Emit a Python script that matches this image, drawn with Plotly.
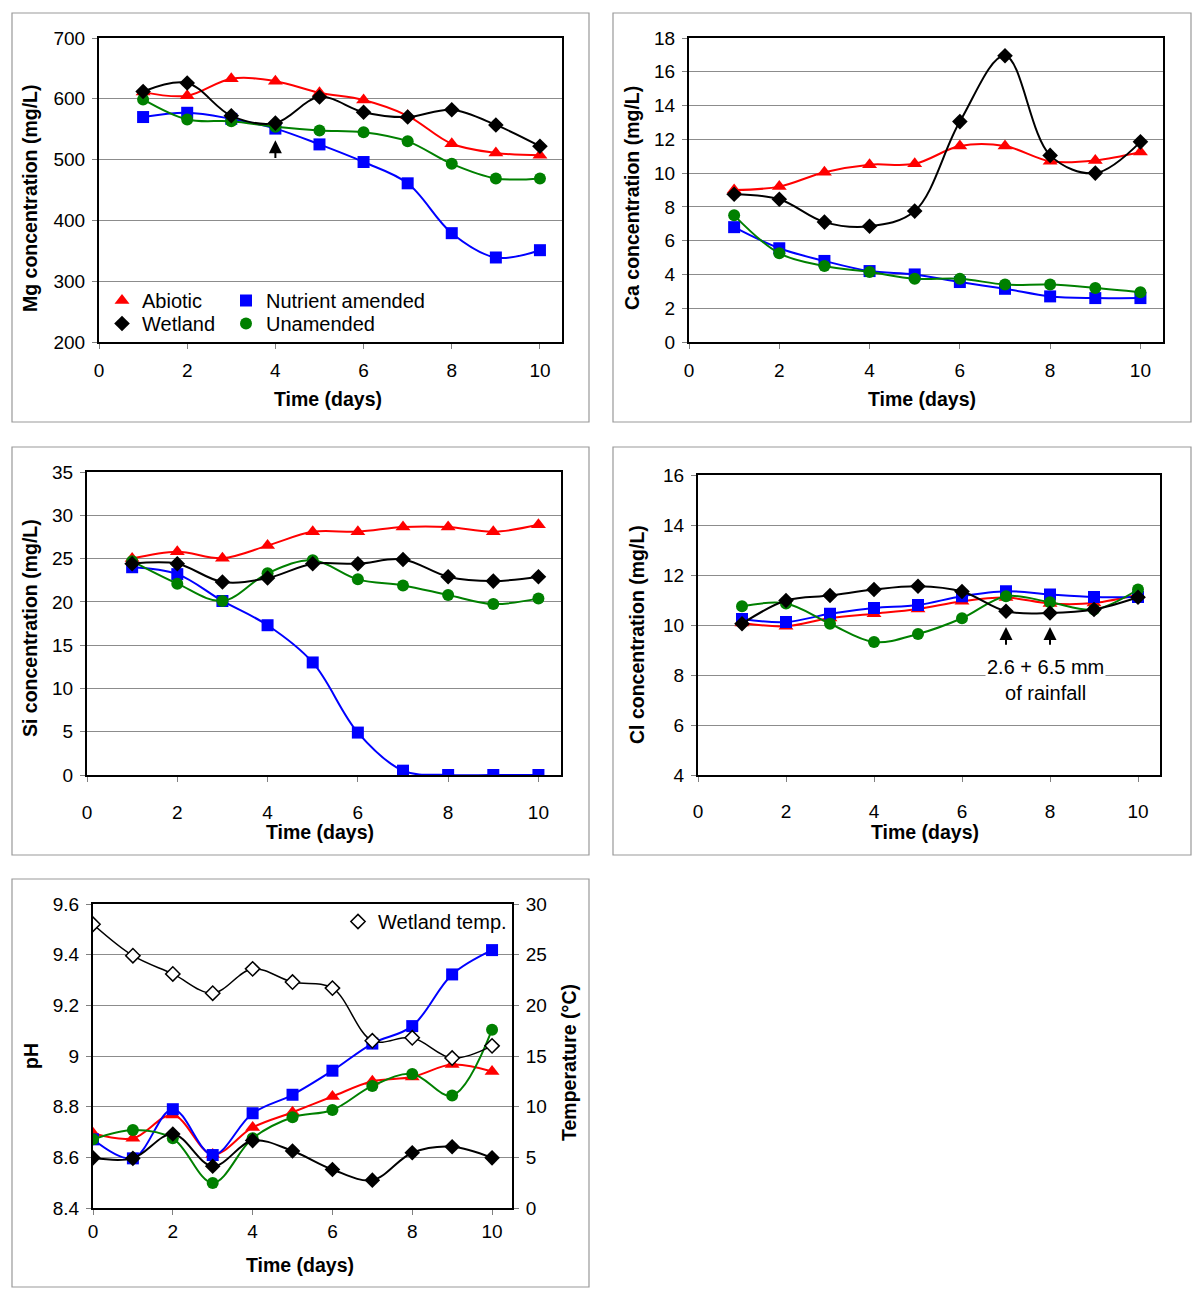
import plotly.graph_objects as go

# ---- data ----
days = [1, 2, 3, 4, 5, 6, 7, 8, 9, 10]
days_ph = [0, 1, 2, 3, 4, 5, 6, 7, 8, 9, 10]

mg_abiotic = [611, 605, 633, 629, 610, 598, 572, 526, 511, 507]
mg_wetland = [612, 626, 572, 560, 603, 578, 570, 582, 557, 522]
mg_nutrient = [570, 577, 567, 551, 525, 496, 461, 379, 339, 351]
mg_unamended = [599, 566, 563, 554, 548, 545, 530, 493, 469, 469]

ca_abiotic = [9.0, 9.2, 10.05, 10.5, 10.55, 11.6, 11.6, 10.7, 10.75, 11.25]
ca_wetland = [8.75, 8.45, 7.1, 6.85, 7.75, 13.05, 16.95, 11.05, 10.0, 11.85]
ca_nutrient = [6.8, 5.55, 4.8, 4.2, 4.0, 3.55, 3.15, 2.7, 2.6, 2.6]
ca_unamended = [7.5, 5.25, 4.5, 4.15, 3.75, 3.75, 3.4, 3.4, 3.2, 2.95]

si_abiotic = [25.0, 25.8, 25.05, 26.5, 28.1, 28.1, 28.65, 28.65, 28.1, 28.9]
si_wetland = [24.4, 24.4, 22.3, 22.75, 24.4, 24.4, 24.9, 22.9, 22.4, 22.9]
si_nutrient = [24.0, 23.2, 20.1, 17.3, 13.0, 4.9, 0.5, 0, 0, 0]
si_unamended = [24.7, 22.1, 20.1, 23.3, 24.8, 22.6, 21.9, 20.8, 19.75, 20.4]

cl_abiotic = [10.08, 9.95, 10.28, 10.45, 10.64, 10.95, 11.1, 10.86, 10.88, 11.22]
cl_wetland = [10.05, 10.98, 11.18, 11.42, 11.55, 11.34, 10.55, 10.48, 10.62, 11.11]
cl_nutrient = [10.24, 10.12, 10.45, 10.68, 10.8, 11.15, 11.35, 11.22, 11.12, 11.12]
cl_unamended = [10.75, 10.86, 10.05, 9.32, 9.64, 10.27, 11.15, 10.91, 10.62, 11.42]

ph_abiotic = [8.695, 8.675, 8.767, 8.611, 8.718, 8.778, 8.84, 8.9, 8.917, 8.966, 8.939]
ph_wetland = [8.598, 8.596, 8.692, 8.565, 8.666, 8.625, 8.552, 8.51, 8.618, 8.642, 8.598]
ph_nutrient = [8.671, 8.596, 8.79, 8.609, 8.774, 8.847, 8.942, 9.049, 9.118, 9.322, 9.418]
ph_unamended = [8.671, 8.708, 8.675, 8.499, 8.675, 8.758, 8.787, 8.882, 8.929, 8.844, 9.104]
temp_wetland = [28.0, 24.9, 23.1, 21.2, 23.6, 22.3, 21.7, 16.5, 16.8, 14.8, 16.0]

FONT = "Liberation Sans, Arial, sans-serif"
RED, BLUE, GREEN, BLACK = "#ff0000", "#0000ff", "#008000", "#000000"

styles = {
    "Abiotic": (RED, "triangle-up", 13),
    "Nutrient amended": (BLUE, "square", 12),
    "Unamended": (GREEN, "circle", 12),
    "Wetland": (BLACK, "diamond", 12),
}

fig = go.Figure()


def add_panel(xa, ya, x, series):
    for name, vals in series:
        color, symbol, size = styles[name]
        fig.add_trace(go.Scatter(
            x=x, y=vals, mode="lines+markers", name=name,
            line=dict(color=color, width=2, shape="spline"),
            marker=dict(color=color, symbol=symbol, size=size),
            xaxis=xa, yaxis=ya, showlegend=False))


add_panel("x", "y", days, [("Abiotic", mg_abiotic), ("Nutrient amended", mg_nutrient),
                           ("Unamended", mg_unamended), ("Wetland", mg_wetland)])
add_panel("x2", "y2", days, [("Abiotic", ca_abiotic), ("Nutrient amended", ca_nutrient),
                             ("Unamended", ca_unamended), ("Wetland", ca_wetland)])
add_panel("x3", "y3", days, [("Abiotic", si_abiotic), ("Nutrient amended", si_nutrient),
                             ("Unamended", si_unamended), ("Wetland", si_wetland)])
add_panel("x4", "y4", days, [("Abiotic", cl_abiotic), ("Nutrient amended", cl_nutrient),
                             ("Unamended", cl_unamended), ("Wetland", cl_wetland)])
add_panel("x5", "y5", days_ph, [("Abiotic", ph_abiotic), ("Nutrient amended", ph_nutrient),
                                ("Unamended", ph_unamended), ("Wetland", ph_wetland)])

fig.add_trace(go.Scatter(
    x=days_ph, y=temp_wetland, mode="lines+markers", name="Wetland temp.",
    line=dict(color=BLACK, width=1.5, shape="spline"),
    marker=dict(color="white", symbol="diamond", size=11, line=dict(color=BLACK, width=1.5)),
    xaxis="x5", yaxis="y6", showlegend=False))

# legend-only entries (marker symbols as in the original legend), one small legend each
for name, lg in [("Abiotic", "legend"), ("Wetland", "legend2"),
                 ("Nutrient amended", "legend3"), ("Unamended", "legend4")]:
    color, symbol, size = styles[name]
    fig.add_trace(go.Scatter(x=[None], y=[None], mode="markers", name=name,
                             marker=dict(color=color, symbol=symbol, size=size),
                             xaxis="x", yaxis="y", legend=lg))
fig.add_trace(go.Scatter(x=[None], y=[None], mode="markers", name="Wetland temp.",
                         marker=dict(color="white", symbol="diamond", size=11,
                                     line=dict(color=BLACK, width=1.5)),
                         xaxis="x5", yaxis="y6", legend="legend5"))

W, H = 1200, 1294


def px_x(v):
    return v / W


def px_y(v):
    return 1 - v / H


def xaxis(l, r, anchor, standoff):
    return dict(domain=[px_x(l), px_x(r)], anchor=anchor, range=[0, 10.5],
                tickvals=[0, 2, 4, 6, 8, 10], ticks="outside", ticklen=5,
                tickcolor="#808080", showgrid=False, zeroline=False,
                showline=True, linecolor="black", linewidth=2, mirror=True,
                ticklabelstandoff=standoff, automargin=False,
                tickfont=dict(family=FONT, size=19, color="black"))


def yaxis(t, b, anchor, rng, dtick, mirror=True):
    return dict(domain=[px_y(b), px_y(t)], anchor=anchor, range=rng, dtick=dtick,
                ticks="outside", ticklen=5, tickcolor="#808080",
                showgrid=True, gridcolor="#8c8c8c", gridwidth=1, zeroline=False,
                showline=True, linecolor="black", linewidth=2, mirror=mirror,
                ticklabelstandoff=3, automargin=False,
                tickfont=dict(family=FONT, size=19, color="black"))


y6 = dict(overlaying="y5", side="right", anchor="x5", range=[0, 30], dtick=5,
          ticks="outside", ticklen=5, tickcolor="#808080", showgrid=False,
          zeroline=False, showline=True, linecolor="black", linewidth=2,
          ticklabelstandoff=3, automargin=False,
          tickfont=dict(family=FONT, size=19, color="black"))

legend_common = dict(xanchor="left", yanchor="top", bgcolor="rgba(0,0,0,0)",
                     font=dict(family=FONT, size=20, color="black"),
                     tracegroupgap=0, itemwidth=30)

fig.update_layout(
    width=W, height=H, margin=dict(l=0, r=0, t=0, b=0, autoexpand=False),
    paper_bgcolor="white", plot_bgcolor="white",
    font=dict(family=FONT, size=18, color="black"),
    xaxis=xaxis(99, 562, "y", 5), yaxis=yaxis(38, 342, "x", [200, 700], 100),
    xaxis2=xaxis(689, 1163, "y2", 5), yaxis2=yaxis(38, 342, "x2", [0, 18], 2),
    xaxis3=xaxis(87, 561, "y3", 14), yaxis3=yaxis(472, 775, "x3", [0, 35], 5),
    xaxis4=xaxis(698, 1160, "y4", 13), yaxis4=yaxis(475, 775, "x4", [4, 16], 2),
    xaxis5=xaxis(93, 512, "y5", 0), yaxis5=yaxis(904, 1208, "x5", [8.4, 9.6], 0.2, mirror=False),
    yaxis6=y6,
    legend=dict(x=px_x(102), y=px_y(281), **legend_common),
    legend2=dict(x=px_x(102), y=px_y(304), **legend_common),
    legend3=dict(x=px_x(226), y=px_y(281), **legend_common),
    legend4=dict(x=px_x(226), y=px_y(304), **legend_common),
    legend5=dict(x=px_x(338), y=px_y(902), **legend_common),
)

# panel frames
for x0, y0, x1, y1 in [(12, 13, 589, 422), (613, 13, 1191, 422),
                       (12, 447, 589, 855), (613, 447, 1191, 855),
                       (12, 879, 589, 1287)]:
    fig.add_shape(type="rect", xref="paper", yref="paper",
                  x0=px_x(x0), x1=px_x(x1), y0=px_y(y0), y1=px_y(y1),
                  line=dict(color="#999999", width=1.2), layer="below")

# axis titles
titles = [
    ("Time (days)", 328, 399, 0), ("Mg concentration (mg/L)", 30, 198, -90),
    ("Time (days)", 922, 399, 0), ("Ca concentration (mg/L)", 632, 198, -90),
    ("Time (days)", 320, 832, 0), ("Si concentration (mg/L)", 30, 628, -90),
    ("Time (days)", 925, 832, 0), ("Cl concentration (mg/L)", 637, 635, -90),
    ("Time (days)", 300, 1265, 0), ("pH", 31, 1056, -90),
    ("Temperature (°C)", 569, 1063, -90),
]
for text, tx, ty, ang in titles:
    fig.add_annotation(text=f"<b>{text}</b>", x=px_x(tx), y=px_y(ty), xref="paper",
                       yref="paper", xanchor="center", yanchor="middle",
                       showarrow=False, textangle=ang,
                       font=dict(family=FONT, size=19.5, color="black"))

# arrows
arrow = dict(text="", showarrow=True, arrowhead=2, arrowsize=1.3, arrowwidth=2,
             arrowcolor="black", standoff=0)
fig.add_annotation(x=4, y=532, ax=4, ay=500, xref="x", yref="y", axref="x", ayref="y", **arrow)
for d in [7, 8]:
    fig.add_annotation(x=d, y=9.92, ax=d, ay=9.15, xref="x4", yref="y4",
                       axref="x4", ayref="y4", **arrow)
fig.add_annotation(text="2.6 + 6.5 mm<br>of rainfall", x=7.9, y=7.81, xref="x4", yref="y4",
                   xanchor="center", yanchor="middle", showarrow=False, bgcolor="white",
                   font=dict(family=FONT, size=20, color="black"))

fig.write_html("out.html", config={"displayModeBar": False},
               post_script="document.body.style.margin='0';document.body.style.overflow='hidden';")
